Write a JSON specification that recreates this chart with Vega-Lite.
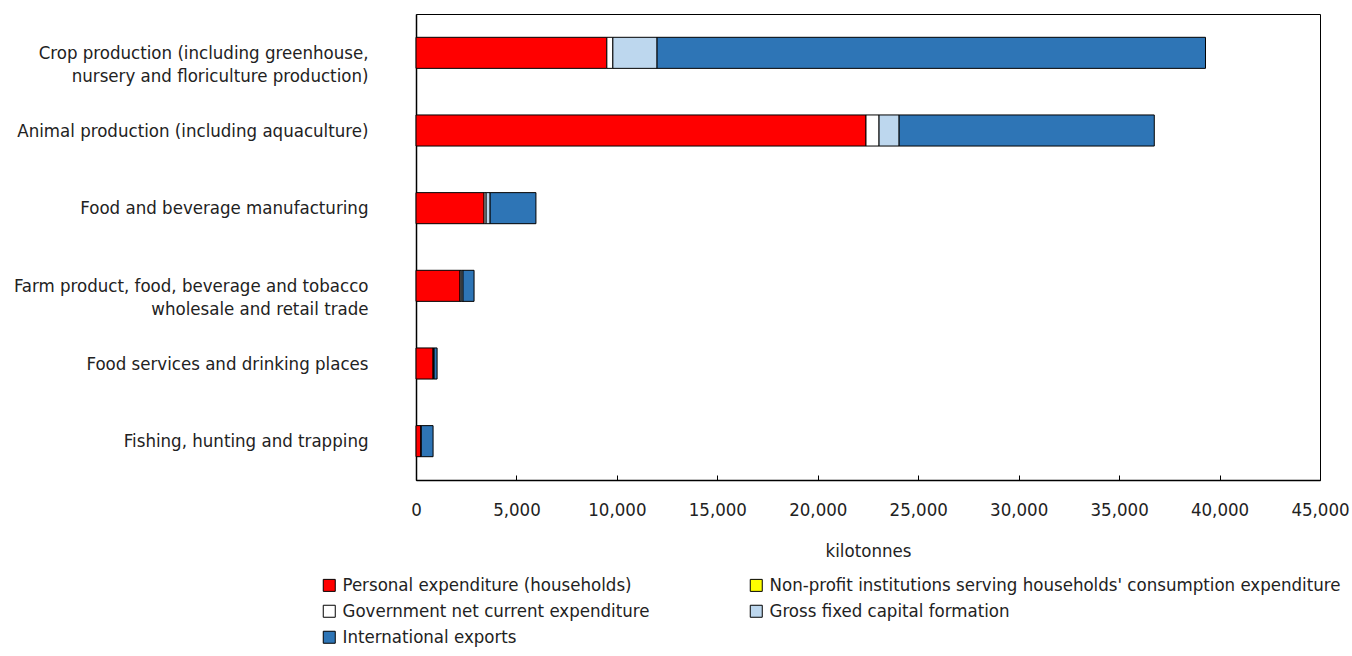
{
  "$schema": "https://vega.github.io/schema/vega-lite/v6.json",
  "autosize": "none",
  "padding": {"left": 416, "top": 14, "right": 32, "bottom": 176},
  "width": 904,
  "height": 466,
  "background": "white",
  "config": {
    "font": "DejaVu Sans Condensed",
    "view": {"stroke": "#000000", "strokeWidth": 1},
    "axis": {"labelFont": "DejaVu Sans Condensed", "titleFont": "DejaVu Sans Condensed", "labelColor": "#222222", "titleColor": "#222222", "grid": false, "domainColor": "#000000", "domainWidth": 1.5},
    "legend": {"labelFont": "DejaVu Sans Condensed", "labelColor": "#222222"}
  },
  "data": {
    "values": [
      {"sector": "Crop production (including greenhouse,|nursery and floriculture production)", "component": "Personal expenditure (households)", "value": 9500, "ord": 1},
      {"sector": "Crop production (including greenhouse,|nursery and floriculture production)", "component": "Government net current expenditure", "value": 300, "ord": 3},
      {"sector": "Crop production (including greenhouse,|nursery and floriculture production)", "component": "Gross fixed capital formation", "value": 2200, "ord": 4},
      {"sector": "Crop production (including greenhouse,|nursery and floriculture production)", "component": "International exports", "value": 27300, "ord": 5},
      {"sector": "Animal production (including aquaculture)", "component": "Personal expenditure (households)", "value": 22400, "ord": 1},
      {"sector": "Animal production (including aquaculture)", "component": "Government net current expenditure", "value": 650, "ord": 3},
      {"sector": "Animal production (including aquaculture)", "component": "Gross fixed capital formation", "value": 1000, "ord": 4},
      {"sector": "Animal production (including aquaculture)", "component": "International exports", "value": 12700, "ord": 5},
      {"sector": "Food and beverage manufacturing", "component": "Personal expenditure (households)", "value": 3390, "ord": 1},
      {"sector": "Food and beverage manufacturing", "component": "Government net current expenditure", "value": 100, "ord": 3},
      {"sector": "Food and beverage manufacturing", "component": "Gross fixed capital formation", "value": 200, "ord": 4},
      {"sector": "Food and beverage manufacturing", "component": "International exports", "value": 2280, "ord": 5},
      {"sector": "Farm product, food, beverage and tobacco|wholesale and retail trade", "component": "Personal expenditure (households)", "value": 2190, "ord": 1},
      {"sector": "Farm product, food, beverage and tobacco|wholesale and retail trade", "component": "Government net current expenditure", "value": 60, "ord": 3},
      {"sector": "Farm product, food, beverage and tobacco|wholesale and retail trade", "component": "Gross fixed capital formation", "value": 90, "ord": 4},
      {"sector": "Farm product, food, beverage and tobacco|wholesale and retail trade", "component": "International exports", "value": 550, "ord": 5},
      {"sector": "Food services and drinking places", "component": "Personal expenditure (households)", "value": 850, "ord": 1},
      {"sector": "Food services and drinking places", "component": "Government net current expenditure", "value": 30, "ord": 3},
      {"sector": "Food services and drinking places", "component": "Gross fixed capital formation", "value": 20, "ord": 4},
      {"sector": "Food services and drinking places", "component": "International exports", "value": 150, "ord": 5},
      {"sector": "Fishing, hunting and trapping", "component": "Personal expenditure (households)", "value": 250, "ord": 1},
      {"sector": "Fishing, hunting and trapping", "component": "Government net current expenditure", "value": 10, "ord": 3},
      {"sector": "Fishing, hunting and trapping", "component": "International exports", "value": 590, "ord": 5}
    ]
  },
  "mark": {"type": "bar", "stroke": "#000000", "strokeWidth": 1},
  "encoding": {
    "y": {
      "field": "sector",
      "type": "nominal",
      "sort": null,
      "scale": {"paddingInner": 0.6, "paddingOuter": 0.3},
      "axis": {"title": null, "ticks": false, "labelPadding": 48, "labelFontSize": 18.5, "labelLineHeight": 23, "labelExpr": "split(datum.label, '|')", "labelLimit": 0, "labelAlign": "right", "domainWidth": 1.5}
    },
    "x": {
      "field": "value",
      "type": "quantitative",
      "aggregate": "sum",
      "stack": "zero",
      "scale": {"domain": [0, 45000], "nice": false},
      "axis": {"title": "kilotonnes", "titleFontSize": 18.5, "titleFontWeight": "normal", "titlePadding": 23, "labelFontSize": 18.5, "values": [0, 5000, 10000, 15000, 20000, 25000, 30000, 35000, 40000, 45000], "format": ",.0f", "labelOverlap": false, "tickSize": -5, "tickColor": "#000000", "labelPadding": 25, "labelFlush": false}
    },
    "color": {
      "field": "component",
      "type": "nominal",
      "scale": {
        "domain": ["Personal expenditure (households)", "Non-profit institutions serving households' consumption expenditure", "Government net current expenditure", "Gross fixed capital formation", "International exports"],
        "range": ["#FF0000", "#FFFF00", "#FFFFFF", "#BDD7EE", "#2E75B6"]
      },
      "legend": {
        "title": null,
        "orient": "none",
        "legendX": -96,
        "legendY": 562,
        "columns": 2,
        "direction": "horizontal",
        "symbolType": "square",
        "symbolSize": 144,
        "symbolStrokeColor": "#000000",
        "symbolStrokeWidth": 1,
        "labelFontSize": 18.5,
        "labelOffset": 4,
        "labelLimit": 0,
        "rowPadding": 7,
        "columnPadding": 97
      }
    },
    "order": {"field": "ord", "type": "quantitative"}
  }
}
